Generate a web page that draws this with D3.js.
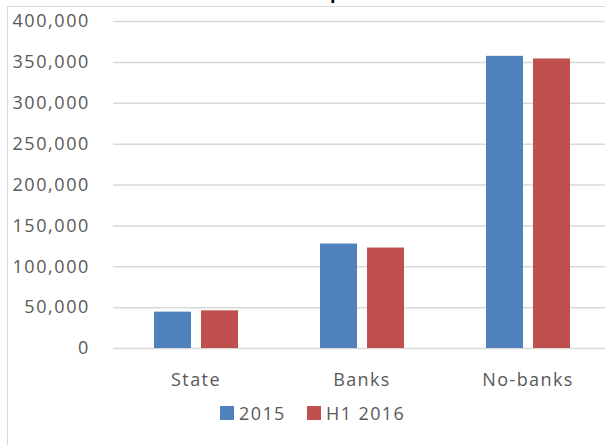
<!DOCTYPE html>
<html>
<head>
<meta charset="utf-8">
<script src="https://cdn.jsdelivr.net/npm/d3@7"></script>
<style>
  body { margin: 0; background: #fff; }
  text { font-family: "Open Sans", sans-serif; }
</style>
</head>
<body>
<svg id="chart" width="605" height="445"></svg>
<script>
// values
var categories = ["State", "Banks", "No-banks"],
    seriesNames = ["2015", "H1 2016"],
    values2015 = [44500, 127800, 357400],
    valuesH12016 = [46100, 122900, 354200],
    yTicks = [0, 50000, 100000, 150000, 200000, 250000, 300000, 350000, 400000],
    title = "Deposits";

var colors = ["#4f81bd", "#c0504d"];

var data = categories.map(function(c, i) {
  return { category: c, values: [values2015[i], valuesH12016[i]] };
});

var svg = d3.select("#chart");

// chart frame (runs off the right and bottom edges)
svg.append("rect")
    .attr("x", 7.5).attr("y", 6.5)
    .attr("width", 640).attr("height", 480)
    .attr("fill", "#fff")
    .attr("stroke", "#d9d9d9");

// title, mostly above the visible area
svg.append("text")
    .attr("x", 306).attr("y", -1)
    .attr("font-weight", "bold")
    .attr("font-size", 18)
    .attr("fill", "#000")
    .text(title);

var plotLeft = 113, plotRight = 611, plotTop = 21, plotBottom = 348;

var x = d3.scaleBand()
    .domain(categories)
    .range([plotLeft, plotRight])
    .padding(0);

var xSub = d3.scaleBand()
    .domain(d3.range(seriesNames.length))
    .range([0, x.bandwidth()])
    .paddingInner(0.213)
    .paddingOuter(0.872);

var y = d3.scaleLinear()
    .domain([0, 400000])
    .range([plotBottom, plotTop]);

// gridlines + y labels
var yAxis = svg.append("g")
    .attr("transform", "translate(" + plotLeft + ",0)")
    .call(d3.axisLeft(y)
        .tickValues(yTicks)
        .tickFormat(d3.format(","))
        .tickSize(-(plotRight - plotLeft))
        .tickPadding(23));
yAxis.select(".domain").remove();
yAxis.selectAll(".tick line")
    .attr("stroke", "#d9d9d9")
    .attr("stroke-width", 1.5);
yAxis.selectAll(".tick text")
    .attr("font-family", "Open Sans, sans-serif")
    .attr("font-size", 18)
    .attr("letter-spacing", 1.6)
    .attr("fill", "#595959");

// bars
var groups = svg.selectAll(".group")
    .data(data)
    .enter().append("g")
      .attr("class", "group")
      .attr("transform", function(d) { return "translate(" + x(d.category) + ",0)"; });

groups.selectAll("rect")
    .data(function(d) { return d.values; })
    .enter().append("rect")
      .attr("x", function(d, i) { return xSub(i); })
      .attr("y", function(d) { return y(d); })
      .attr("width", xSub.bandwidth())
      .attr("height", function(d) { return y(0) - y(d); })
      .attr("fill", function(d, i) { return colors[i]; });

// category labels
var xAxis = svg.append("g")
    .attr("transform", "translate(0," + plotBottom + ")")
    .call(d3.axisBottom(x).tickSize(0).tickPadding(25));
xAxis.select(".domain").remove();
xAxis.selectAll(".tick text")
    .attr("font-family", "Open Sans, sans-serif")
    .attr("font-size", 18)
    .attr("letter-spacing", 1.4)
    .attr("fill", "#595959");

// legend
var legendX = [220, 307];
var legend = svg.selectAll(".legend")
    .data(seriesNames)
    .enter().append("g")
      .attr("class", "legend")
      .attr("transform", function(d, i) { return "translate(" + legendX[i] + ",406)"; });

legend.append("rect")
    .attr("width", 14).attr("height", 14)
    .attr("fill", function(d, i) { return colors[i]; });

legend.append("text")
    .attr("x", 19).attr("y", 14)
    .attr("font-size", 18)
    .attr("letter-spacing", 1.4)
    .attr("fill", "#595959")
    .text(function(d) { return d; });
</script>
</body>
</html>
